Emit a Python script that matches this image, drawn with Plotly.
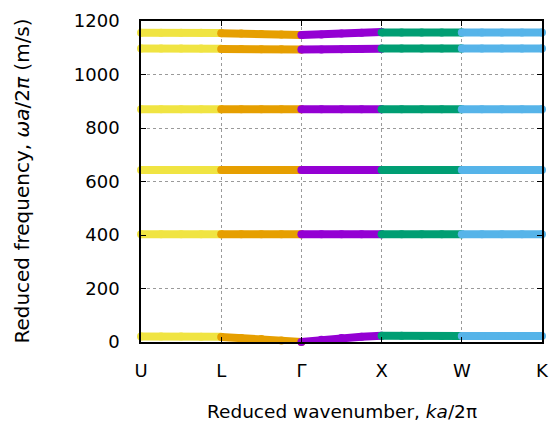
import plotly.graph_objects as go

# High-symmetry points
k_labels = ["U", "L", "Γ", "X", "W", "K"]
k_ticks = [0, 1, 2, 3, 4, 5]

# k positions within each segment (fractions of segment)
seg_frac = [0.0, 0.25, 0.5, 0.75, 1.0]

seg_colors = ["#f0e442", "#e69f00", "#9400d3", "#009e73", "#56b4e9"]

# Band frequencies per segment (U-L, L-Γ, Γ-X, X-W, W-K)
band0 = [[21, 21, 21, 20, 20], [19, 15, 11, 6, 0], [0, 8, 15, 20, 23], [23, 23, 22, 22, 22], [22, 22, 22, 22, 22]]
band1 = [[403, 403, 403, 403, 403], [403, 403, 403, 403, 403], [403, 403, 403, 403, 403], [403, 403, 403, 403, 403], [403, 403, 403, 403, 403]]
band2 = [[643, 643, 643, 643, 643], [643, 643, 643, 643, 643], [643, 643, 643, 643, 643], [643, 643, 643, 643, 643], [643, 643, 643, 643, 643]]
band3 = [[870, 870, 870, 870, 870], [870, 870, 870, 870, 870], [870, 870, 870, 870, 870], [870, 870, 870, 870, 870], [870, 870, 870, 870, 870]]
band4 = [[1097, 1097, 1097, 1097, 1096], [1095, 1095, 1094, 1094, 1093], [1093, 1093, 1094, 1095, 1096], [1097, 1097, 1097, 1097, 1097], [1097, 1097, 1097, 1097, 1097]]
band5 = [[1156, 1156, 1156, 1156, 1155], [1154, 1153, 1151, 1150, 1148], [1148, 1150, 1153, 1156, 1159], [1157, 1157, 1157, 1157, 1157], [1157, 1157, 1157, 1157, 1157]]
bands = [band0, band1, band2, band3, band4, band5]

x_title = "Reduced wavenumber, <i>ka</i>/2π"
y_title = "Reduced frequency, <i>ωa</i>/2<i>π</i> (m/s)"

fig = go.Figure()
for band in bands:
    for s, vals in enumerate(band):
        xs = [k_ticks[s] + f for f in seg_frac]
        fig.add_trace(go.Scatter(
            x=xs, y=vals, mode="lines+markers",
            line=dict(color=seg_colors[s], width=8),
            marker=dict(color=seg_colors[s], size=8),
            cliponaxis=False, showlegend=False, hoverinfo="skip"))

font_family = "DejaVu Sans, sans-serif"
fig.update_layout(
    width=559, height=427,
    margin=dict(l=141, r=10, t=17, b=85),
    paper_bgcolor="white", plot_bgcolor="white",
    font=dict(family=font_family, size=18, color="black"),
    showlegend=False,
    annotations=[
        dict(text=x_title, xref="paper", yref="paper", x=0.5, y=-0.216,
             xanchor="center", yanchor="middle", showarrow=False,
             font=dict(size=18.5)),
        dict(text=y_title, xref="paper", yref="paper", x=-0.299, y=0.5,
             xanchor="center", yanchor="middle", showarrow=False, textangle=-90,
             font=dict(size=20)),
    ],
)
fig.update_xaxes(
    range=[0, 5], tickvals=k_ticks, ticktext=k_labels,
    showgrid=True, gridcolor="#9a9a9a", griddash="dot", gridwidth=1,
    showline=True, linecolor="black", linewidth=1.5, mirror="ticks",
    ticks="inside", ticklen=5, tickcolor="black",
    zeroline=False, tickfont=dict(size=18), ticklabelstandoff=12,
)
fig.update_yaxes(
    range=[0, 1200], tickvals=[0, 200, 400, 600, 800, 1000, 1200],
    showgrid=True, gridcolor="#9a9a9a", griddash="dot", gridwidth=1,
    showline=True, linecolor="black", linewidth=1.5, mirror="ticks",
    ticks="inside", ticklen=5, tickcolor="black",
    zeroline=False, tickfont=dict(size=18), ticklabelstandoff=16,
)

fig.write_html("out.html")
